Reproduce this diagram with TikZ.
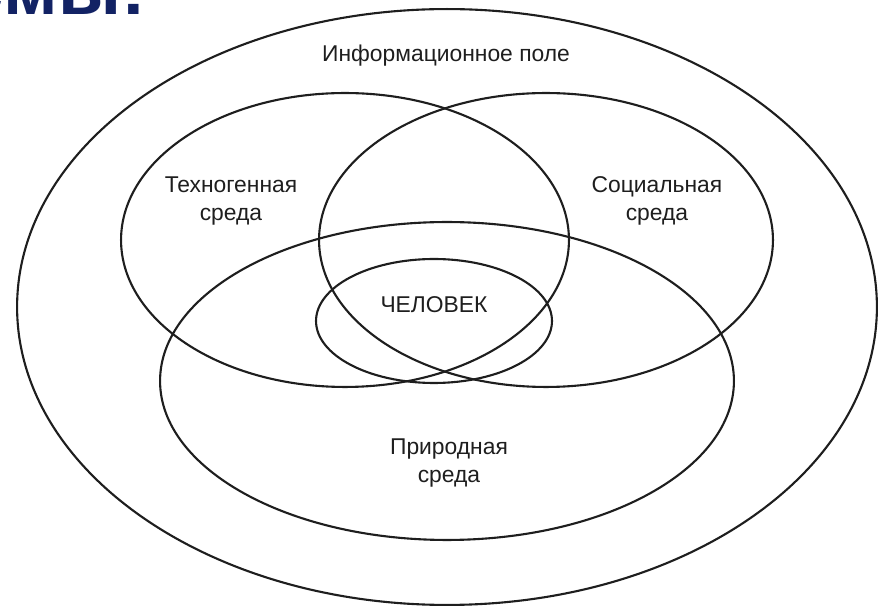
\documentclass[tikz,border=0pt]{standalone}
\usepackage{fontspec}
\setmainfont{Liberation Sans}
\usetikzlibrary{shapes.geometric}
\definecolor{titleblue}{RGB}{18,34,100}
\definecolor{inkgray}{RGB}{30,30,30}
\begin{document}
\begin{tikzpicture}[x=0.02cm,y=-0.02cm,
        area/.style={ellipse,draw=inkgray,line width=1.2pt,inner sep=0pt},
        label/.style={text=inkgray,align=center,font=\fontsize{13}{16}\selectfont},
        title/.style={text=titleblue,font=\fontsize{42}{48}\selectfont\bfseries,inner sep=0pt}]
        \useasboundingbox (0,0) rectangle (883,607);
        % Title, cut off by the page edge
        \node[title,anchor=base east] (head) at (146,15) {смы:};
        % Outer field
        \node[area,minimum width=17.2cm,minimum height=11.92cm] (outer) at (447,307) {};
        % Three environments
        \node[area,minimum width=8.96cm,minimum height=5.88cm] (techno) at (345,240) {};
        \node[area,minimum width=9.08cm,minimum height=5.88cm] (social) at (546,240) {};
        \node[area,minimum width=11.48cm,minimum height=6.36cm] (nature) at (447,381) {};
        % Human in the middle
        \node[area,minimum width=4.72cm,minimum height=2.48cm] (human) at (434,321) {};
        % Labels
        \node[label] (outerlbl) at (446,56) {Информационное поле};
        \node[label] (technolbl) at (231,201) {Техногенная\\среда};
        \node[label] (sociallbl) at (657,201) {Социальная\\среда};
        \node[label] (naturelbl) at (449,463) {Природная\\среда};
        \node[label] (humanlbl) at (434,305) {ЧЕЛОВЕК};
\end{tikzpicture}
\end{document}
